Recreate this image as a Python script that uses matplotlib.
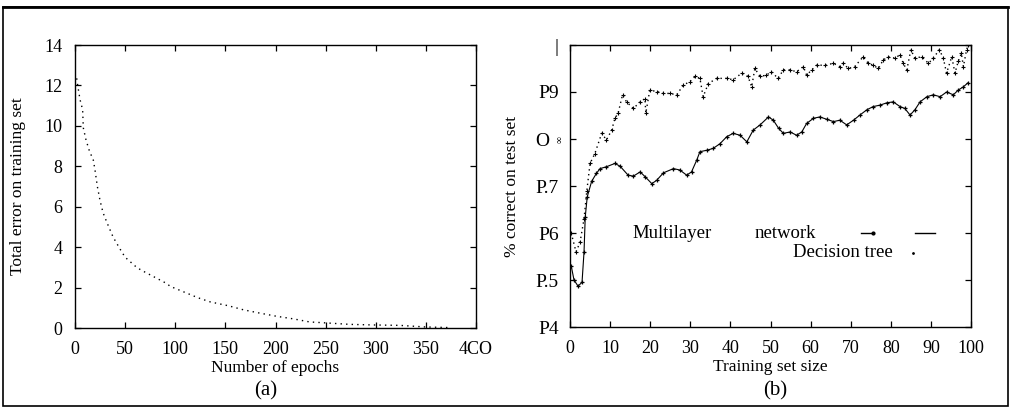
import matplotlib
matplotlib.use("Agg")
import matplotlib.pyplot as plt
import matplotlib.transforms as mtransforms
from matplotlib.patches import Rectangle
from matplotlib.lines import Line2D

plt.rcParams['font.family'] = ['Liberation Serif', 'DejaVu Serif']

# (a) training error against epochs
epochs = [1.7, 2.7, 5, 7.6, 8.3, 11, 14.3, 18.3, 20, 22.3, 25, 28, 32, 38, 45, 50,
          61.5, 66.5, 91.5, 95, 123, 135, 153, 168, 184, 201, 218, 234, 251, 274,
          298, 324, 350, 374]
train_error = [12.35, 12.0, 11.3, 10.8, 9.9, 9.3, 8.77, 8.3, 7.8, 7.0, 6.3, 5.7, 5.2,
               4.5, 3.9, 3.5, 3.0, 2.85, 2.2, 2.06, 1.49, 1.29, 1.1, 0.9, 0.74, 0.58,
               0.45, 0.3, 0.25, 0.18, 0.15, 0.13, 0.05, 0.02]
a_xticks = [0, 50, 100, 150, 200, 250, 300, 350, 400]
a_xticklabels = ["0", "50", "100", "150", "200", "250", "300", "350", "4CO"]
a_yticks = [0, 2, 4, 6, 8, 10, 12, 14]
a_yticklabels = ["0", "2", "4", "6", "8", "10", "12", "14"]

# (b) learning curves against training set size
tree_size = [0.3, 1.5, 2.5, 3.5, 4.2, 5, 6.2, 7.9, 9.1, 10.4, 11.2, 12, 13.1, 14.1, 15.8,
             17.5, 18.7, 18.9, 19.9, 21.6, 23.3, 24.9, 26.6, 28.3, 29.9, 31.2, 32.4,
             33.2, 34.5, 36.6, 39.1, 40.7, 42.8, 44.4, 45.3, 46.1, 47.4, 49, 50.2, 51.9,
             53.2, 54.9, 56.5, 58.2, 59, 60.3, 61.5, 63.6, 65.7, 67.3, 68.1, 69.4, 71,
             73.1, 74.4, 75.6, 76.9, 78.1, 79.4, 81, 82.3, 83.1, 84, 85, 86, 87.7, 89.4,
             90.6, 92.1, 93.1, 93.9, 95.2, 96, 96.8, 97.6, 98.1, 98.9, 99.3]
tree_acc = [0.60, 0.56, 0.58, 0.63, 0.69, 0.748, 0.769, 0.812, 0.798, 0.819, 0.844,
            0.855, 0.894, 0.879, 0.865, 0.879, 0.886, 0.855, 0.904, 0.901, 0.897, 0.897,
            0.894, 0.915, 0.922, 0.933, 0.929, 0.89, 0.918, 0.929, 0.929, 0.926, 0.94,
            0.933, 0.911, 0.95, 0.933, 0.936, 0.943, 0.929, 0.947, 0.947, 0.943, 0.954,
            0.936, 0.947, 0.957, 0.957, 0.961, 0.954, 0.961, 0.95, 0.954, 0.975, 0.961,
            0.957, 0.95, 0.968, 0.975, 0.972, 0.979, 0.961, 0.947, 0.99, 0.972, 0.975,
            0.961, 0.972, 0.99, 0.972, 0.94, 0.975, 0.94, 0.965, 0.982, 0.954, 0.99, 1.0]
net_size = [0.3, 1.0, 2.0, 3.0, 3.5, 3.8, 4.3, 5.4, 6.6, 7.5, 9.1, 11.2, 12.5, 14.5,
            15.8, 17.5, 18.7, 20.4, 21.6, 23.3, 25.8, 27.4, 29.1, 30.3, 31.6, 32.4, 34.1,
            35.7, 37.4, 39.1, 40.7, 42.4, 44.1, 45.7, 47.4, 49.5, 50.7, 52, 53.2, 54.9,
            56.5, 57.8, 59, 60.7, 62.3, 64, 65.7, 67.3, 69, 70.7, 72.3, 74, 75.6, 77.3,
            79, 80.6, 82.3, 83.5, 84.8, 86, 87.3, 89, 90.6, 92.3, 93.9, 95.6, 96.8, 98.1,
            99.3]
net_acc = [0.53, 0.50, 0.487, 0.495, 0.56, 0.634, 0.677, 0.71, 0.727, 0.737, 0.741,
           0.748, 0.742, 0.723, 0.721, 0.73, 0.72, 0.705, 0.712, 0.728, 0.737, 0.734,
           0.723, 0.73, 0.755, 0.773, 0.776, 0.78, 0.79, 0.805, 0.812, 0.808, 0.794,
           0.819, 0.83, 0.847, 0.84, 0.823, 0.812, 0.815, 0.808, 0.815, 0.833, 0.844,
           0.847, 0.842, 0.837, 0.84, 0.83, 0.84, 0.851, 0.862, 0.869, 0.872, 0.877,
           0.879, 0.869, 0.865, 0.851, 0.862, 0.879, 0.89, 0.894, 0.89, 0.9, 0.894,
           0.904, 0.911, 0.92]
b_xticks = [0, 10, 20, 30, 40, 50, 60, 70, 80, 90, 100]
b_xticklabels = ["0", "10", "20", "30", "40", "50", "60", "70", "80", "90", "100"]
b_yticks = [0.4, 0.5, 0.6, 0.7, 0.8, 0.9, 1.0]
b_yticklabels = ["P4", "P.5", "P6", "P.7", "O", "P9", "|"]

W, H = 1013, 411
fig = plt.figure(figsize=(W / 100, H / 100), dpi=100)


def px_axes(x0, y0, x1, y1):
    return fig.add_axes([x0 / W, 1 - y1 / H, (x1 - x0) / W, (y1 - y0) / H])


def style(ax):
    for s in ax.spines.values():
        s.set_linewidth(1.0)
    ax.tick_params(direction='in', length=4, width=0.9, top=True, right=True,
                   labelsize=12.5)


# outer frame
fig.patches.append(Rectangle((3 / W, 1 - 406 / H), 1005 / W, 399 / H,
                             transform=fig.transFigure, fill=False,
                             edgecolor='black', linewidth=1.2))
fig.add_artist(Line2D([3 / W, 1008 / W], [1 - 7 / H, 1 - 7 / H],
                      transform=fig.transFigure, color='black', linewidth=2.0))

# panel (a)
ax1 = px_axes(75, 45, 476, 328)
ax1.plot(epochs, train_error, color='black', linestyle=(0, (1, 3)), linewidth=1.0)
ax1.set_xlim(0, 400)
ax1.set_ylim(0, 14)
ax1.set_xticks(a_xticks)
ax1.set_xticklabels(a_xticklabels)
ax1.set_yticks(a_yticks)
ax1.set_yticklabels(a_yticklabels)
style(ax1)
ax1.tick_params(axis='x', pad=9, labelsize=13)
ax1.tick_params(axis='y', pad=9, labelsize=13)
ax1.set_xlabel("Number of epochs", fontsize=12.5, labelpad=2)
ax1.set_ylabel("Total error on training set", fontsize=12.5, labelpad=13)

# panel (b)
ax2 = px_axes(570, 45, 971, 327)
ax2.plot(tree_size, tree_acc, color='black', linestyle=(0, (1, 2.5)), linewidth=1.0,
         marker='+', markersize=3.5, markeredgewidth=0.8)
ax2.plot(net_size, net_acc, color='black', linestyle='-', linewidth=0.8,
         marker='+', markersize=3.5, markeredgewidth=0.9)
ax2.set_xlim(0, 100)
ax2.set_ylim(0.4, 1.0)
ax2.set_xticks(b_xticks)
ax2.set_xticklabels(b_xticklabels)
ax2.set_yticks(b_yticks)
ax2.set_yticklabels(b_yticklabels)
style(ax2)
ax2.tick_params(axis='x', pad=9, labelsize=13)
ax2.tick_params(axis='y', pad=8, labelsize=14)
# nudge the 0.8 label left to leave room for the small glyph beside it
shift = mtransforms.ScaledTranslation(-7 / 72, 0, fig.dpi_scale_trans)
lab = ax2.get_yticklabels()[4]
lab.set_transform(lab.get_transform() + shift)
ax2.text(-0.024, 0.665, "∞", transform=ax2.transAxes, rotation=90, fontsize=7,
         ha='center', va='center')
ax2.set_xlabel("Training set size", fontsize=12.5, labelpad=2)
ax2.set_ylabel("% correct on test set", fontsize=12.5, labelpad=11)

# key
ax2.text(0.155, 0.333, "Multilayer", transform=ax2.transAxes, fontsize=13.5,
         ha='left', va='center')
ax2.text(0.46, 0.333, "network", transform=ax2.transAxes, fontsize=13.5,
         ha='left', va='center')
ax2.plot([0.725, 0.755], [0.333, 0.333], transform=ax2.transAxes, color='black',
         linewidth=1.0, marker='o', markersize=2, markevery=[1])
ax2.plot([0.86, 0.91], [0.333, 0.333], transform=ax2.transAxes, color='black',
         linewidth=1.0)
ax2.text(0.555, 0.263, "Decision tree", transform=ax2.transAxes, fontsize=13.5,
         ha='left', va='center')
ax2.plot([0.855], [0.263], transform=ax2.transAxes, color='black', marker='.',
         markersize=2, linestyle='none')

# captions
fig.text(266 / W, 1 - 391 / H, "(a)", fontsize=15, ha='center', va='center')
fig.text(775 / W, 1 - 391 / H, "(b)", fontsize=15, ha='center', va='center')

fig.savefig("out.png", dpi=100)
